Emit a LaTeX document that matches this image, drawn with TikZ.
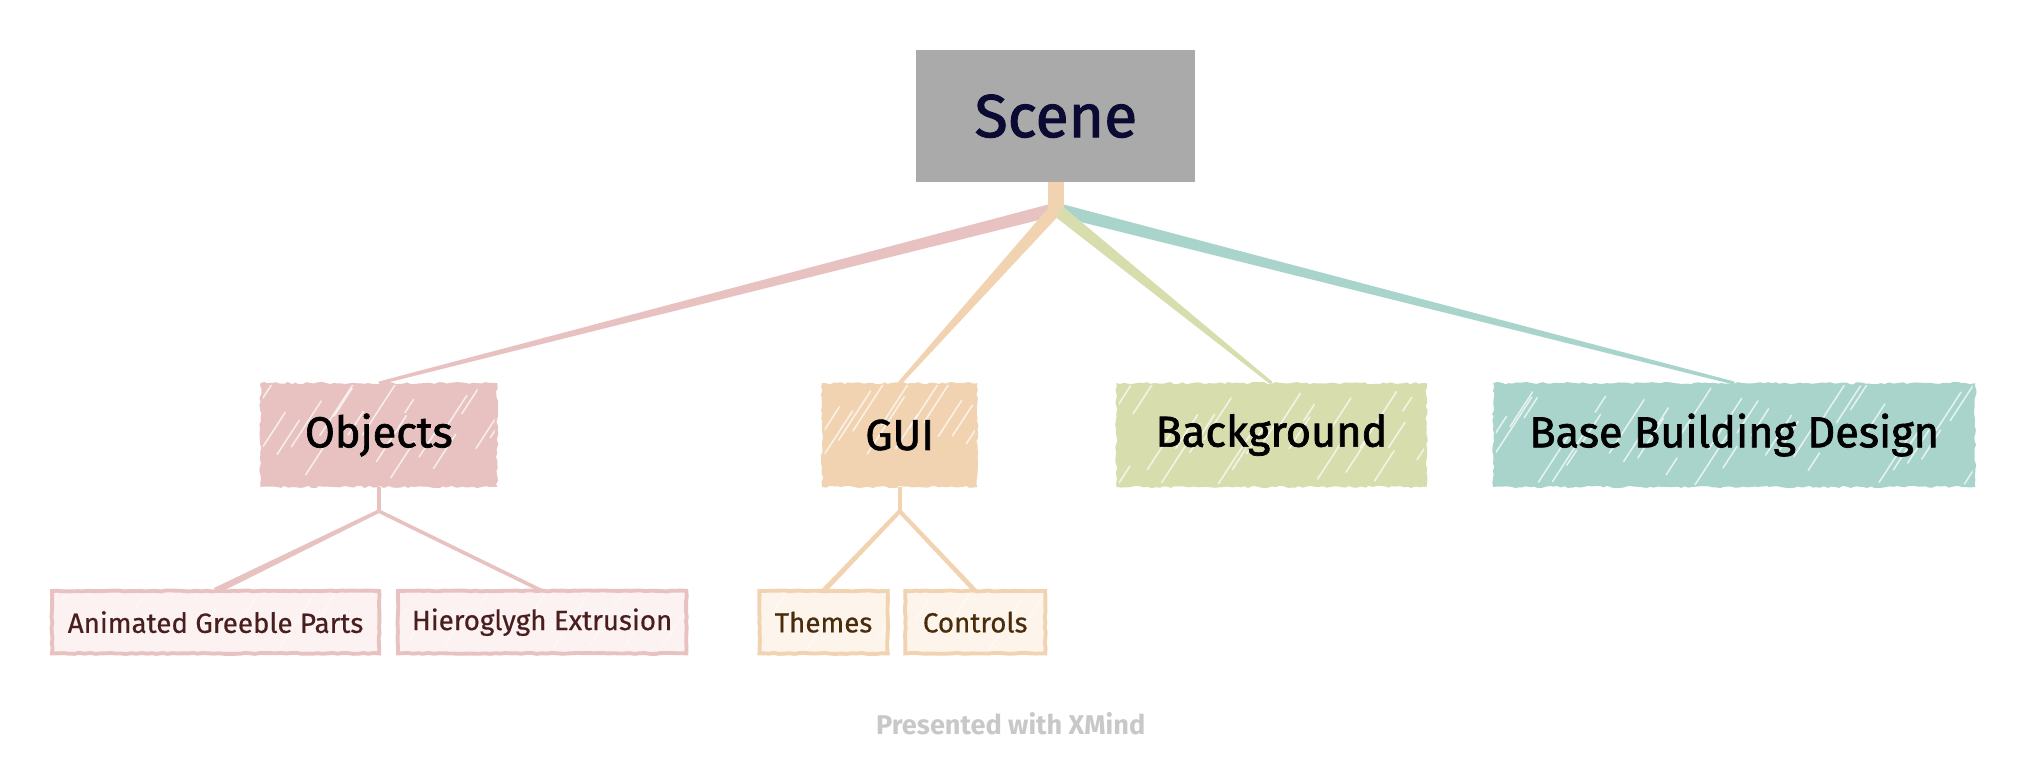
\documentclass[tikz,border=0pt]{standalone}
\usepackage{fontspec}
\setmainfont{Fira Sans}
\newfontfamily\heavyf{Fira Sans}[FakeBold=1.6]
\newfontfamily\midf{Fira Sans}[FakeBold=0.5]
\usetikzlibrary{calc,decorations.pathmorphing}
\definecolor{scenegray}{HTML}{AAAAAA}
\definecolor{scenetext}{HTML}{0B0A33}
\definecolor{cpink}{HTML}{E8C2C1}
\definecolor{corange}{HTML}{F2D3B1}
\definecolor{cgreen}{HTML}{D8DDAE}
\definecolor{cteal}{HTML}{A8D4CB}
\definecolor{lpink}{HTML}{FBF2F1}
\definecolor{lorange}{HTML}{FDF5EC}
\definecolor{tpink}{HTML}{4A1E1E}
\definecolor{torange}{HTML}{4A2C0C}
\definecolor{footgray}{HTML}{C8C8C8}
\pgfdeclarelayer{bg}
\pgfdeclarelayer{conn}
\pgfdeclarelayer{fills}
\pgfdeclarelayer{marks}
\pgfsetlayers{bg,conn,fills,marks,main}
\tikzset{
  rough/.style={decorate, decoration={random steps, segment length=3pt, amplitude=0.9pt}},
  mainbox/.style={minimum height=80pt, inner sep=0pt, text=black,
    font=\heavyf\fontsize{33.5}{38}\selectfont},
  subbox/.style={minimum height=48pt, inner sep=0pt,
    font=\midf\fontsize{21.5}{25}\selectfont},
  mainfill/.style={rough, fill=#1},
  subfill/.style={draw=#1, line width=3pt, decorate, decoration={random steps, segment length=4pt, amplitude=0.4pt}},
  streak/.style={white, line width=1.2pt, opacity=0.7, line cap=round},
}
\newcommand\streaks[2]{%
  \begin{scope}
    \clip ($(#1.south west)+(2pt,2pt)$) rectangle ($(#1.north east)+(-2pt,-2pt)$);
    \foreach \i in {0,#2,...,420}{%
      \pgfmathsetmacro\len{12+rnd*45}%
      \pgfmathsetmacro\off{rnd*60}%
      \draw[streak] ($(#1.south west)+({\i-20},{-\off})$) -- ++(-57:\len);
    }
  \end{scope}}
\newcommand\taper[5]{%
  \fill[#5] ($(#1)!#3!90:(#2)$) -- ($(#1)!#3!-90:(#2)$) -- ($(#2)!#4!90:(#1)$) -- ($(#2)!#4!-90:(#1)$) -- cycle;}
\begin{document}
\begin{tikzpicture}[x=1pt, y=-1pt]
\pgfmathsetseed{7}
\begin{pgfonlayer}{bg}
\useasboundingbox[fill=white] (0,0) rectangle (1568,600);
\end{pgfonlayer}

% root
\node[fill=scenegray, minimum width=216pt, minimum height=102pt, inner sep=0pt,
  text=scenetext, font=\heavyf\fontsize{47}{52}\selectfont] (scene) at (818,90) {Scene};

% main topics (text)
\node[mainbox, minimum width=183pt] (objects) at (293.5,337) {Objects};
\node[mainbox, minimum width=120pt] (gui) at (697,337) {GUI};
\node[mainbox, minimum width=240pt] (bg) at (985,337) {Background};
\node[mainbox, minimum width=373pt] (bbd) at (1343.5,337) {Base Building Design};

% sub topics (text)
\node[subbox, text=tpink, minimum width=253pt] (agp) at (167,482) {Animated Greeble Parts};
\node[subbox, text=tpink, minimum width=223pt] (hex) at (420,482) {Hieroglygh Extrusion};
\node[subbox, text=torange, minimum width=99pt] (themes) at (638,482) {Themes};
\node[subbox, text=torange, minimum width=108pt] (controls) at (755.5,482) {Controls};

% box fills
\begin{pgfonlayer}{fills}
\path[mainfill=cpink] (objects.south west) rectangle (objects.north east);
\path[mainfill=corange] (gui.south west) rectangle (gui.north east);
\path[mainfill=cgreen] (bg.south west) rectangle (bg.north east);
\path[mainfill=cteal] (bbd.south west) rectangle (bbd.north east);
\path[subfill=cpink, fill=lpink] (agp.south west) rectangle (agp.north east);
\path[subfill=cpink, fill=lpink] (hex.south west) rectangle (hex.north east);
\path[subfill=corange, fill=lorange] (themes.south west) rectangle (themes.north east);
\path[subfill=corange, fill=lorange] (controls.south west) rectangle (controls.north east);
\end{pgfonlayer}

% hatching streaks
\begin{pgfonlayer}{marks}
\streaks{objects}{11}
\streaks{gui}{11}
\streaks{bg}{11}
\streaks{bbd}{11}
\begin{scope}[streak/.style={white, line width=0.6pt, opacity=0.7}]
\streaks{agp}{28}
\streaks{hex}{28}
\streaks{themes}{28}
\streaks{controls}{28}
\end{scope}
\end{pgfonlayer}

% junctions
\coordinate (j0) at (818,162);
\coordinate (j1) at (293.5,396);
\coordinate (j2) at (697,396);

\begin{pgfonlayer}{conn}
\taper{j0}{objects.north}{5pt}{1.2pt}{cpink}
\taper{j0}{bbd.north}{5pt}{1.2pt}{cteal}
\taper{j0}{bg.north}{5pt}{1.2pt}{cgreen}
\taper{scene.south}{j0}{6pt}{6pt}{corange}
\taper{j0}{gui.north}{5pt}{1.5pt}{corange}
\draw[cpink, line width=3pt] (objects.south) -- (j1);
\taper{j1}{agp.north}{1.4pt}{2.6pt}{cpink}
\taper{j1}{hex.north}{1.4pt}{1.4pt}{cpink}
\draw[corange, line width=3pt] (gui.south) -- (j2);
\taper{j2}{themes.north}{1.6pt}{2pt}{corange}
\taper{j2}{controls.north}{1.6pt}{1.8pt}{corange}
\end{pgfonlayer}

% footer
\node[text=footgray, font=\bfseries\fontsize{21}{25}\selectfont] (footer) at (783,561) {Presented with XMind};
\end{tikzpicture}
\end{document}
